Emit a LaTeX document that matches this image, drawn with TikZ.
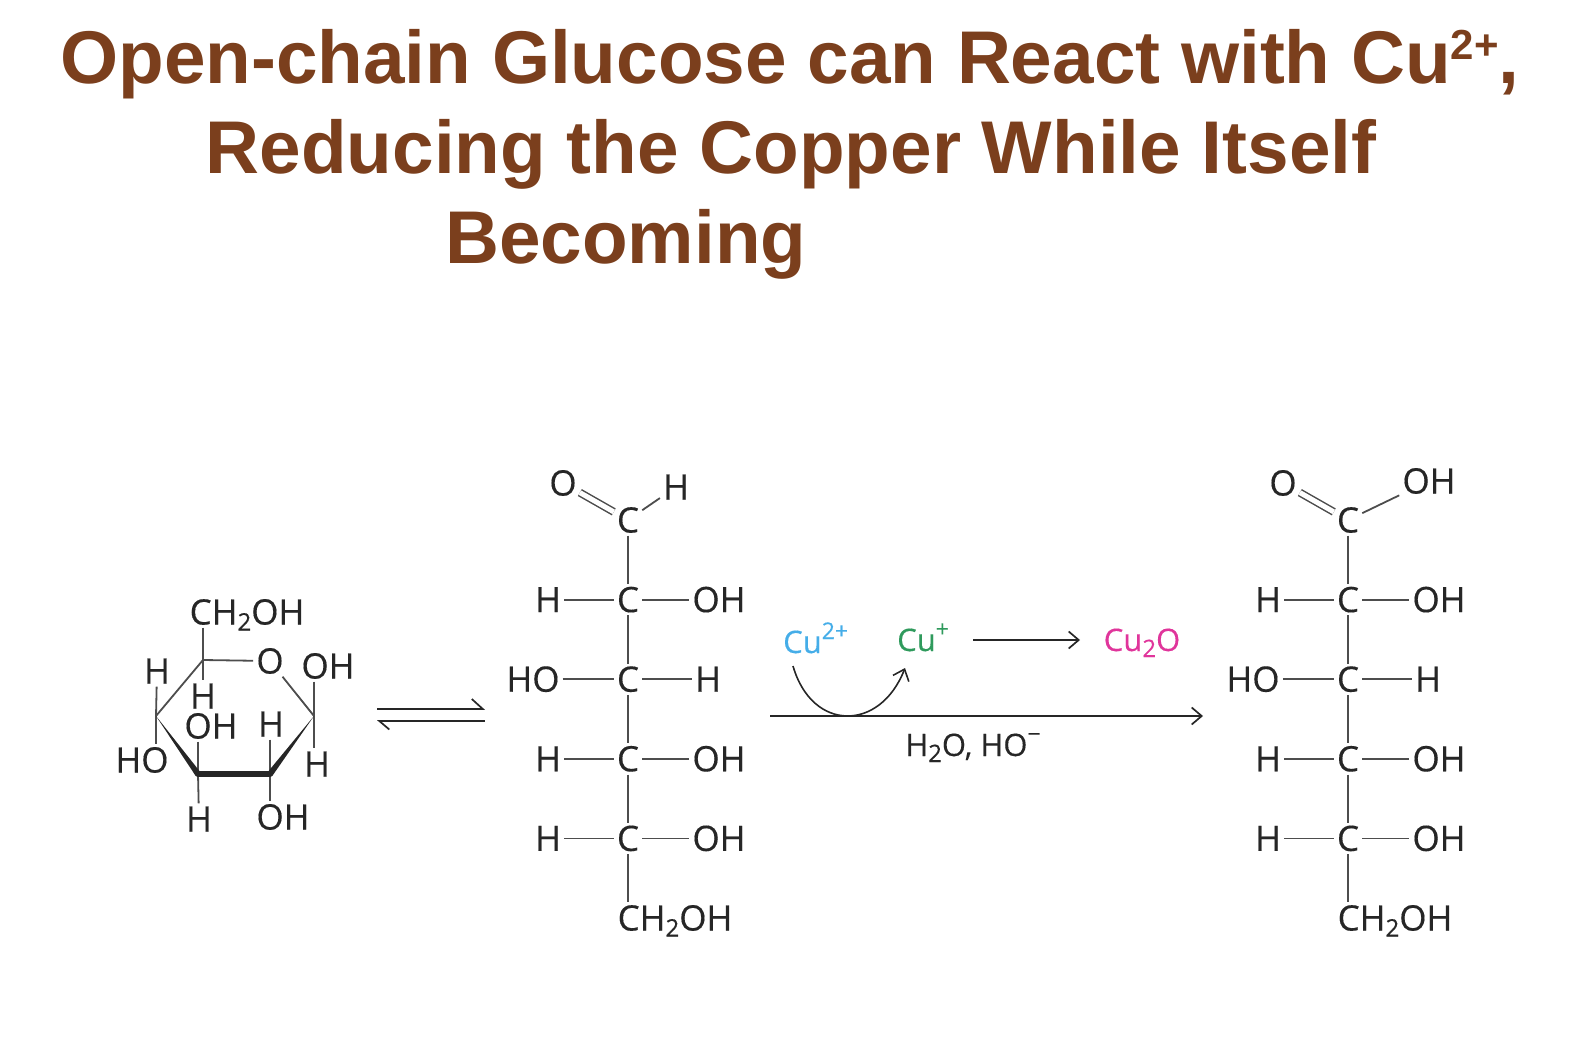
\documentclass[tikz,border=0pt]{standalone}
\usepackage{fontspec}
\setmainfont{Liberation Sans}
\newfontfamily\chemfont[FakeBold=0.35]{Open Sans}
\usepackage{tikz}
\usetikzlibrary{arrows.meta}
\usetikzlibrary{calc}
\definecolor{titlebrown}{HTML}{7B3F1D}
\definecolor{inkdark}{HTML}{262626}
\definecolor{bondgray}{HTML}{4D4D4D}
\definecolor{cutwo}{HTML}{45ADE8}
\definecolor{cuone}{HTML}{2F9A5C}
\definecolor{cuoxide}{HTML}{E0359B}
\newcommand{\lowtxt}[1]{\raisebox{-6pt}{\fontsize{24}{24}\selectfont #1}}
\newcommand{\hightxt}[1]{\raisebox{14pt}{\fontsize{23}{23}\selectfont #1}}
\begin{document}
\begin{tikzpicture}[x=1pt,y=-1pt]
    \newcommand{\spacing}[0]{ 79.6pt }
    \tikzstyle{headline} = [
      text=titlebrown,
      inner sep=0pt,
      font=\fontsize{74.7}{80}\bfseries\selectfont
    ]
    \tikzstyle{atom} = [
      text=inkdark,
      inner sep=3pt,
      text height=25pt,
      text depth=0pt,
      font=\chemfont\fontsize{35}{40}\selectfont
    ]
    \tikzstyle{reagent} = [
      atom,
      inner sep=0pt,
      text height=22pt,
      font=\chemfont\fontsize{31}{36}\selectfont
    ]
    \tikzstyle{edge}  = [line width=1.8pt,draw=bondgray]
    \tikzstyle{dedge} = [line width=1.7pt,draw=inkdark,-{Straight Barb[length=10pt,width=17pt]}]
    \tikzstyle{hedge} = [line width=1.7pt,draw=inkdark,{Straight Barb[length=10pt,width=17pt,harpoon]}-]

    \useasboundingbox (0,0) rectangle (1574,1048);

    % title
    \node[headline] (title one) at (790,64) {Open-chain Glucose can React with Cu\raisebox{24pt}{\fontsize{42}{42}\selectfont 2+},};
    \node[headline] (title two) at (791,154) {Reducing the Copper While Itself};
    \node[headline,anchor=west] (title three) at (445,244) {Becoming};

    % ring form
    \coordinate (r1) at (203,660);
    \coordinate (r2) at (314,716);
    \coordinate (r3) at (270,774);
    \coordinate (r4) at (198,774);
    \coordinate (r5) at (156,716);
    \node[atom] (ring ch) at (247,612) {CH\lowtxt{2}OH};
    \node[atom] (ring o) at (270,661) {O};
    \node[atom] (ring h1) at (157,671) {H};
    \node[atom] (ring h2) at (203,696) {H};
    \node[atom] (ring oh3) at (211,726) {OH};
    \node[atom] (ring h4) at (271,724) {H};
    \node[atom] (ring oh1) at (328,666) {OH};
    \node[atom] (ring h5) at (317,764) {H};
    \node[atom] (ring ho) at (142,760) {HO};
    \node[atom] (ring h3) at (199,819) {H};
    \node[atom] (ring oh2) at (283,817) {OH};

    \draw[edge] (r1)--(ring o);
    \draw[edge] (ring o)--(r2);
    \draw[edge] (r5)--(r1);
    \draw[edge] (r1|-ring ch.south)--(r1);
    \draw[edge] (r1)--(ring h2);
    \draw[edge] (ring h1)--(r5);
    \draw[edge] (r5)--(r5|-ring ho.north);
    \draw[edge] (r4|-ring oh3.south)--(r4);
    \draw[edge] (r4)--(ring h3);
    \draw[edge] (r3|-ring h4.south)--(r3);
    \draw[edge] (r3)--(r3|-ring oh2.north);
    \draw[edge] (r2|-ring oh1.south)--(r2);
    \draw[edge] (r2)--(r2|-ring h5.north);
    \fill[black!85] (r5)--([shift={(2.4,-1.8)}]r4)--([shift={(-2.4,1.8)}]r4)--cycle;
    \fill[black!85] (r2)--([shift={(2.4,1.8)}]r3)--([shift={(-2.4,-1.8)}]r3)--cycle;
    \draw[line width=6pt,draw=black!85,line cap=round] (r4)--(r3);

    % equilibrium
    \coordinate (eq top left) at (377,709);
    \coordinate (eq top right) at (485,709);
    \coordinate (eq low left) at (377,721);
    \coordinate (eq low right) at (485,721);
    \draw[dedge,-{Straight Barb[length=11pt,width=20pt,harpoon]}] (eq top left)--(eq top right);
    \draw[hedge] (eq low left)--(eq low right);

    % open chain
    \node[atom] (cho) at (628,520) {C};
    \node[atom] (two) at ([yshift=-\spacing]cho.center) {C};
    \node[atom] (three) at ([yshift=-\spacing]two.center) {C};
    \node[atom] (four) at ([yshift=-\spacing]three.center) {C};
    \node[atom] (five) at ([yshift=-\spacing]four.center) {C};
    \node[atom] (cho o) at (563,483) {O};
    \node[atom] (cho h) at (676,487) {H};
    \node[atom] (two h) at ([xshift=-80pt]two.center) {H};
    \node[atom] (two oh) at ([xshift=91pt]two.center) {OH};
    \node[atom] (three ho) at ([xshift=-95pt]three.center) {HO};
    \node[atom] (three h) at ([xshift=80pt]three.center) {H};
    \node[atom] (four h) at ([xshift=-80pt]four.center) {H};
    \node[atom] (four oh) at ([xshift=91pt]four.center) {OH};
    \node[atom] (five h) at ([xshift=-80pt]five.center) {H};
    \node[atom] (five oh) at ([xshift=91pt]five.center) {OH};
    \node[atom] (six) at ([xshift=47pt,yshift=-\spacing]five.center) {CH\lowtxt{2}OH};

    \draw[edge,double=white,double distance=5pt,line width=1.5pt] (cho o)--(cho);
    \draw[edge] (cho)--(cho h);
    \draw[edge] (cho)--(two);
    \draw[edge] (two)--(three);
    \draw[edge] (three)--(four);
    \draw[edge] (four)--(five);
    \draw[edge] (five)--(five|-six.north);
    \draw[edge] (two h)--(two);
    \draw[edge] (two)--(two oh);
    \draw[edge] (three ho)--(three);
    \draw[edge] (three)--(three h);
    \draw[edge] (four h)--(four);
    \draw[edge] (four)--(four oh);
    \draw[edge] (five h)--(five);
    \draw[edge] (five)--(five oh);

    % reaction
    \node[reagent,text=cutwo,anchor=west] (cu two) at (783,642) {Cu\hightxt{2+}};
    \node[reagent,text=cuone,anchor=west] (cu one) at (897,640) {Cu\hightxt{+}};
    \node[reagent,text=cuoxide] (cu oxide) at (1142,640) {Cu\lowtxt{2}O};
    \node[reagent] (reagents) at (973,745) {H\lowtxt{2}O, HO\hightxt{\textminus}};
    \coordinate (main start) at (770,716);
    \coordinate (main end) at (1203,716);
    \coordinate (small start) at (973,640);
    \coordinate (small end) at (1080,640);
    \coordinate (curve start) at (793,666);
    \coordinate (curve end) at (905,668);
    \draw[dedge] (main start)--(main end);
    \draw[dedge] (small start)--(small end);
    \draw[dedge,line width=1.6pt] (curve start) .. controls (812,732) and (880,732) .. (curve end);

    % acid
    \node[atom] (acid) at (1348,520) {C};
    \node[atom] (acid two) at ([yshift=-\spacing]acid.center) {C};
    \node[atom] (acid three) at ([yshift=-\spacing]acid two.center) {C};
    \node[atom] (acid four) at ([yshift=-\spacing]acid three.center) {C};
    \node[atom] (acid five) at ([yshift=-\spacing]acid four.center) {C};
    \node[atom] (acid o) at (1283,483) {O};
    \node[atom] (acid oh) at (1429,481) {OH};
    \node[atom] (two h r) at ([xshift=-80pt]acid two.center) {H};
    \node[atom] (two oh r) at ([xshift=91pt]acid two.center) {OH};
    \node[atom] (three ho r) at ([xshift=-95pt]acid three.center) {HO};
    \node[atom] (three h r) at ([xshift=80pt]acid three.center) {H};
    \node[atom] (four h r) at ([xshift=-80pt]acid four.center) {H};
    \node[atom] (four oh r) at ([xshift=91pt]acid four.center) {OH};
    \node[atom] (five h r) at ([xshift=-80pt]acid five.center) {H};
    \node[atom] (five oh r) at ([xshift=91pt]acid five.center) {OH};
    \node[atom] (six r) at ([xshift=47pt,yshift=-\spacing]acid five.center) {CH\lowtxt{2}OH};

    \draw[edge,double=white,double distance=5pt,line width=1.5pt] (acid o)--(acid);
    \draw[edge] (acid)--(acid oh);
    \draw[edge] (acid)--(acid two);
    \draw[edge] (acid two)--(acid three);
    \draw[edge] (acid three)--(acid four);
    \draw[edge] (acid four)--(acid five);
    \draw[edge] (acid five)--(acid five|-six r.north);
    \draw[edge] (two h r)--(acid two);
    \draw[edge] (acid two)--(two oh r);
    \draw[edge] (three ho r)--(acid three);
    \draw[edge] (acid three)--(three h r);
    \draw[edge] (four h r)--(acid four);
    \draw[edge] (acid four)--(four oh r);
    \draw[edge] (five h r)--(acid five);
    \draw[edge] (acid five)--(five oh r);
\end{tikzpicture}
\end{document}
